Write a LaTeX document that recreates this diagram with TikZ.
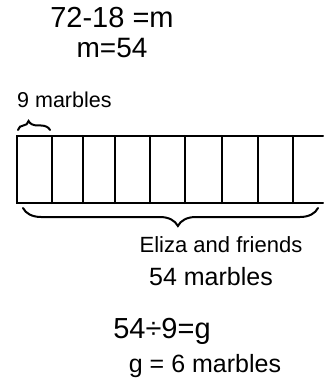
\documentclass[tikz,border=0pt]{standalone}
\usepackage{fontspec}
\setmainfont{Liberation Sans}
\usetikzlibrary{decorations.pathreplacing}
\tikzset{
    hand/.style={
        line width=2pt,
        black,
        line cap=round
    },
    note/.style={
        inner sep=0pt,
        anchor=base
    },
    curly/.style={
        hand,
        decorate,
        decoration={brace, amplitude=#1}
    }
}

\begin{document}
\begin{tikzpicture}[x=1pt, y=-1pt]
    \useasboundingbox (0,0) rectangle (323,387);
    % working at the top
    \node[note, font=\fontsize{29}{30}\selectfont] (subtr) at (112,28) {72-18 =m};
    \node[note, font=\fontsize{28}{29}\selectfont] (mval) at (112,58) {m=54};
    % the tape
    \node[note, anchor=base west, font=\fontsize{21.5}{22}\selectfont] (unit) at (17,108) {9 marbles};
    \coordinate (tl) at (17,136);
    \coordinate (bl) at (17,203);
    \coordinate (tr) at (323,136);
    \coordinate (br) at (323,203);
    \draw[hand] (tr) -- (tl) -- (bl) -- (br);
    \foreach \x in {52,83,115,150,185,222,258,293}
        \draw[hand] (\x,136) -- (\x,203);
    \coordinate (ua) at (18,130);
    \coordinate (ub) at (50,130);
    \draw[curly=9pt, decoration={aspect=0.33}] (ua) -- (ub);
    \coordinate (wa) at (318,208);
    \coordinate (wb) at (23,208);
    \draw[curly=18pt, decoration={aspect=0.475}] (wa) -- (wb);
    % the whole
    \node[note, font=\fontsize{22}{23}\selectfont] (whole) at (221,252) {Eliza and friends};
    \node[note, font=\fontsize{25}{26}\selectfont] (total) at (211,285) {54 marbles};
    % working at the bottom
    \node[note, font=\fontsize{29}{30}\selectfont] (divide) at (162,338) {54÷9=g};
    \node[note, font=\fontsize{25}{26}\selectfont] (answer) at (205,372) {g = 6 marbles};
\end{tikzpicture}
\end{document}
